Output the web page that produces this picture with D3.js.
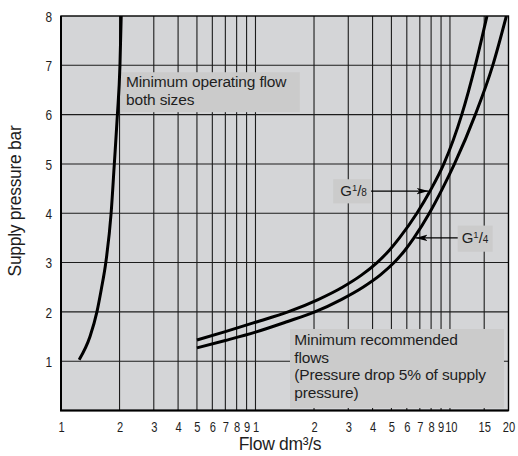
<!DOCTYPE html>
<html>
<head>
<meta charset="utf-8">
<script src="https://cdn.jsdelivr.net/npm/d3@7"></script>
<style>
  html, body { margin: 0; padding: 0; background: #ffffff; }
  svg { display: block; }
  text { font-family: "Liberation Sans", Arial, Helvetica, sans-serif; fill: #1e1e1e; }
</style>
</head>
<body>
<svg id="chart" width="518" height="456"></svg>
<script>
// Flow (dm³/s) tick values on the log axis and the labels printed under them
const xTickValues = [0.1, 0.2, 0.3, 0.4, 0.5, 0.6, 0.7, 0.8, 0.9,
                     1, 2, 3, 4, 5, 6, 7, 8, 9, 10, 15, 20];
const xTickLabels = ["1", "2", "3", "4", "5", "6", "7", "8", "9",
                     "1", "2", "3", "4", "5", "6", "7", "8", "9", "10", "15", "20"];
const yTickValues = [1, 2, 3, 4, 5, 6, 7, 8];
const yTickLabels = ["1", "2", "3", "4", "5", "6", "7", "8"];

// Minimum operating flow, both sizes: [flow, pressure]
const minOperatingFlow = [
  [0.124, 1.03], [0.141, 1.5], [0.153, 2.0], [0.161, 2.45], [0.170, 3.0],
  [0.181, 4.0], [0.188, 5.0], [0.195, 6.0], [0.201, 7.0], [0.204, 8.0]
];
// Minimum recommended flow, G1/8
const flowG18 = [
  [0.5, 1.43], [0.7, 1.6], [1.0, 1.79], [1.47, 2.0], [2.1, 2.25], [2.8, 2.5],
  [3.52, 2.75], [4.22, 3.0], [4.88, 3.25], [5.5, 3.5], [6.76, 4.0], [7.9, 4.45],
  [9.3, 5.0], [11.5, 6.0], [13.5, 7.0], [15.5, 8.0]
];
// Minimum recommended flow, G1/4
const flowG14 = [
  [0.5, 1.27], [0.7, 1.42], [1.0, 1.59], [1.45, 1.8], [2.02, 2.0], [2.76, 2.25],
  [3.57, 2.5], [4.39, 2.75], [5.16, 3.0], [5.87, 3.25], [6.53, 3.5], [7.83, 4.0],
  [9.15, 4.5], [10.55, 5.0], [13.5, 6.0], [16.6, 7.0], [19.5, 8.0]
];

const svg = d3.select("#chart");
const plot = { left: 61, right: 508.5, top: 16, bottom: 410.5 };

const x = d3.scaleLog().domain([0.1, 20]).range([plot.left, plot.right]);
const y = d3.scaleLinear().domain([0, 8]).range([plot.bottom, plot.top]);

// plot background
svg.append("rect")
  .attr("x", plot.left).attr("y", plot.top)
  .attr("width", plot.right - plot.left).attr("height", plot.bottom - plot.top)
  .attr("fill", "#d4d5d7");

// grid
const grid = svg.append("g").attr("stroke", "#1c1c1c").attr("stroke-width", 1.1);
grid.selectAll("line.v").data(xTickValues.filter(v => v > 0.1 && v < 20)).join("line")
  .attr("class", "v")
  .attr("x1", d => x(d)).attr("x2", d => x(d))
  .attr("y1", plot.top).attr("y2", plot.bottom);
grid.selectAll("line.h").data(yTickValues.filter(v => v < 8)).join("line")
  .attr("class", "h")
  .attr("x1", plot.left).attr("x2", plot.right)
  .attr("y1", d => y(d)).attr("y2", d => y(d));

// axes (labels only; frame drawn separately); digits set slightly condensed
const digitWidth = 6.2;
const xAxis = d3.axisBottom(x).tickValues(xTickValues)
  .tickFormat((d, i) => xTickLabels[i]).tickSize(0).tickPadding(0);
const gx = svg.append("g").attr("transform", `translate(0,${plot.bottom})`).call(xAxis);
gx.select(".domain").remove();
gx.selectAll("text").attr("dy", null).attr("y", 21.8)
  .attr("x", d => d === 10 ? 0.9 : (d === 9 ? -0.4 : 0))
  .style("font-size", "14.5px").style("font-family", "Liberation Sans, Arial, sans-serif")
  .attr("fill", "#262626")
  .attr("textLength", function () { return this.textContent.length * digitWidth; })
  .attr("lengthAdjust", "spacingAndGlyphs");

const yAxis = d3.axisLeft(y).tickValues(yTickValues)
  .tickFormat((d, i) => yTickLabels[i]).tickSize(0).tickPadding(0);
const gy = svg.append("g").attr("transform", `translate(${plot.left},0)`).call(yAxis);
gy.select(".domain").remove();
gy.selectAll("text").attr("x", -9).attr("text-anchor", "end").attr("dy", "0.36em")
  .style("font-size", "14.5px").style("font-family", "Liberation Sans, Arial, sans-serif")
  .attr("fill", "#262626")
  .attr("textLength", function () { return this.textContent.length * 6.6; })
  .attr("lengthAdjust", "spacingAndGlyphs");

// annotation boxes (over the grid, under the curves)
function noteBox(f0, p0, f1, p1) {
  svg.append("rect")
    .attr("x", x(f0)).attr("y", y(p0))
    .attr("width", x(f1) - x(f0)).attr("height", y(p1) - y(p0))
    .attr("fill", "#cbcbcb");
}
noteBox(0.2035, 6.86, 1.69, 6.05);
noteBox(1.505, 1.653, 18.95, 0.05);
noteBox(2.51, 4.69, 3.93, 4.20);
noteBox(10.96, 3.75, 16.58, 3.22);

// curves
svg.append("clipPath").attr("id", "plotClip").append("rect")
  .attr("x", plot.left).attr("y", plot.top)
  .attr("width", plot.right - plot.left).attr("height", plot.bottom - plot.top);

const line = d3.line()
  .x(d => x(d[0])).y(d => y(d[1]))
  .curve(d3.curveMonotoneX);

const curves = svg.append("g").attr("clip-path", "url(#plotClip)")
  .attr("fill", "none").attr("stroke", "#000").attr("stroke-width", 3);
[minOperatingFlow, flowG18, flowG14].forEach(c => curves.append("path").attr("d", line(c)));

// frame
svg.append("rect")
  .attr("x", plot.left).attr("y", plot.top)
  .attr("width", plot.right - plot.left).attr("height", plot.bottom - plot.top)
  .attr("fill", "none").attr("stroke", "#000").attr("stroke-width", 1.4);
svg.append("path")
  .attr("d", `M${plot.left},${plot.top}V${plot.bottom}H${plot.right}`)
  .attr("fill", "none").attr("stroke", "#000").attr("stroke-width", 2);

// notes text
function note(f, p, dx, dy, lines) {
  const xp = x(f) + dx;
  const t = svg.append("text").attr("x", xp).attr("y", y(p) + dy)
    .style("font-size", "15.5px").style("letter-spacing", "-0.15px");
  lines.forEach((s, i) => t.append("tspan").attr("x", xp).attr("dy", i === 0 ? 0 : 17.7).text(s));
}
note(0.2035, 6.86, 5, 14.8, ["Minimum operating flow", "both sizes"]);
note(1.505, 1.653, 4.3, 16, ["Minimum recommended", "flows", "(Pressure drop 5% of supply", "pressure)"]);

// size labels with arrows
svg.append("defs").append("marker")
  .attr("id", "arrowHead").attr("viewBox", "0 0 12 8").attr("refX", 12).attr("refY", 4)
  .attr("markerWidth", 12).attr("markerHeight", 8).attr("markerUnits", "userSpaceOnUse")
  .attr("orient", "auto")
  .append("path").attr("d", "M0,0.8 L12,4 L0,7.2 L3,4 Z").attr("fill", "#000");

function sizeLabel(f, p, dx, dy, denom) {
  const t = svg.append("text").attr("x", x(f) + dx).attr("y", y(p) + dy).style("font-size", "15px");
  t.append("tspan").text("G");
  t.append("tspan").attr("dy", -5).style("font-size", "9.5px").text("1");
  t.append("tspan").attr("dy", 5).text("/");
  t.append("tspan").style("font-size", "10px").text(denom);
}

// arrows point at these curve points
const arrowG18 = flowG18[11];
const arrowG14 = flowG14[10];

sizeLabel(2.51, 4.69, 7, 17, "8");
svg.append("line")
  .attr("x1", x(3.93)).attr("y1", y(arrowG18[1]))
  .attr("x2", x(arrowG18[0]) - 1.5).attr("y2", y(arrowG18[1]))
  .attr("stroke", "#000").attr("stroke-width", 1.2).attr("marker-end", "url(#arrowHead)");

sizeLabel(10.96, 3.75, 4, 17.6, "4");
svg.append("line")
  .attr("x1", x(10.96)).attr("y1", y(arrowG14[1]))
  .attr("x2", x(arrowG14[0]) + 1.5).attr("y2", y(arrowG14[1]))
  .attr("stroke", "#000").attr("stroke-width", 1.2).attr("marker-end", "url(#arrowHead)");

// axis titles
svg.append("text").attr("x", 280).attr("y", 450).attr("text-anchor", "middle")
  .style("font-size", "17.5px").style("letter-spacing", "-0.3px").text("Flow dm³/s");
svg.append("text").attr("transform", "translate(21,201) rotate(-90)").attr("text-anchor", "middle")
  .style("font-size", "17.5px").style("letter-spacing", "-0.3px").text("Supply pressure bar");
</script>
</body>
</html>
